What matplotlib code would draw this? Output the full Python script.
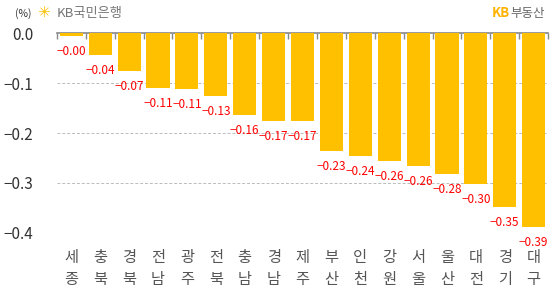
import matplotlib
matplotlib.use("Agg")
import matplotlib.pyplot as plt
import numpy as np

plt.rcParams['font.family'] = ['Noto Sans CJK KR', 'DejaVu Sans']

regions = ["세종", "충북", "경북", "전남", "광주", "전북", "충남", "경남", "제주",
           "부산", "인천", "강원", "서울", "울산", "대전", "경기", "대구"]
values = [-0.005, -0.044, -0.076, -0.110, -0.112, -0.126, -0.164, -0.176, -0.176,
          -0.236, -0.246, -0.256, -0.266, -0.282, -0.302, -0.348, -0.388]
labels = ["-0.00", "-0.04", "-0.07", "-0.11", "-0.11", "-0.13", "-0.16", "-0.17", "-0.17",
          "-0.23", "-0.24", "-0.26", "-0.26", "-0.28", "-0.30", "-0.35", "-0.39"]
yticks = [0.0, -0.1, -0.2, -0.3, -0.4]

fig = plt.figure(figsize=(5.52, 2.93), dpi=100)
ax = fig.add_axes([0.103, 0.205, 0.890, 0.682])

x = np.arange(len(regions))
ax.bar(x, values, width=0.8, color="#FFC000", zorder=3)
ax.set_xlim(-0.5, len(regions) - 0.5)
ax.set_ylim(-0.4, 0)

for xi, v, lab in zip(x, values, labels):
    ax.annotate(lab.replace("-", "\u2212"), (xi, v), xytext=(0, -6.5), textcoords="offset points",
                ha="center", va="top", color="#FF0000", fontsize=8.5,
                annotation_clip=False, zorder=4)

ax.set_yticks(yticks)
ax.set_yticklabels([("%.1f" % t).replace("-", "\u2212") if t != 0 else "0.0" for t in yticks],
                   fontsize=11, color="#333333")
ax.tick_params(axis='y', length=0, pad=17)
for t in yticks[1:]:
    ax.axhline(t, color="#BBBBBB", lw=0.7, ls=(0, (3, 2)), zorder=1)

ax.set_xticks(x)
ax.set_xticklabels(["\n".join(list(r)) for r in regions], fontsize=11,
                   color="#555555", linespacing=1.42)
ax.tick_params(axis='x', which='major', length=0, pad=11.5)
ax.set_xticks(np.arange(-0.5, len(regions)), minor=True)
ax.tick_params(axis='x', which='minor', top=True, bottom=False, direction='in',
               length=4, color="#888888", width=1)

for s in ["left", "right", "bottom"]:
    ax.spines[s].set_visible(False)
ax.spines["top"].set_color("#888888")
ax.spines["top"].set_linewidth(1.2)

fig.text(0.027, 0.955, "(%)", fontsize=7.5, color="#333333", va="center")
fig.text(0.068, 0.958, "\u2733", fontsize=11, color="#FFC000", va="center",
         family=['DejaVu Sans'])
fig.text(0.103, 0.955, "KB국민은행", fontsize=9.5, color="#777777", va="center")
fig.text(0.890, 0.955, "KB", fontsize=9.5, color="#FFB300", va="center", weight="bold")
fig.text(0.925, 0.955, "부동산", fontsize=9, color="#666666", va="center")

fig.savefig("out.png", dpi=100)
